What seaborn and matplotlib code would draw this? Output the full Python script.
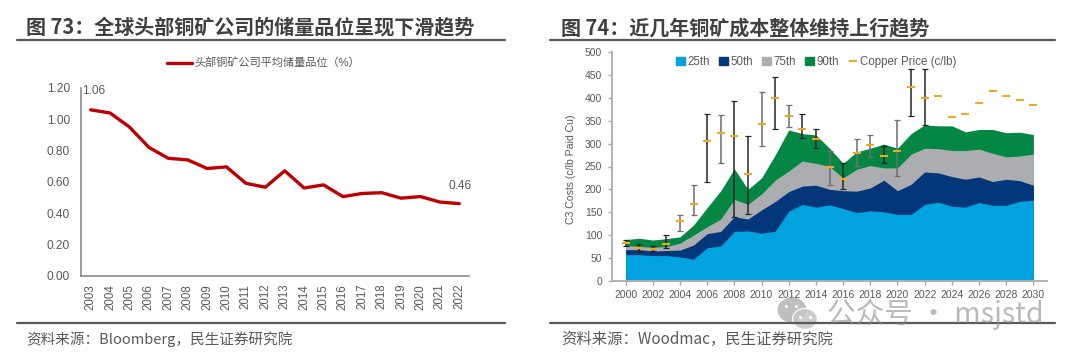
import numpy as np
import pandas as pd
import matplotlib.pyplot as plt
from matplotlib.lines import Line2D
from matplotlib.patches import Ellipse, Patch
import seaborn as sns

W, H = 1078, 357
sns.set_theme(style="white")
plt.rcParams['font.family'] = ['Liberation Sans', 'Noto Sans CJK SC', 'DejaVu Sans']

# left chart
grade_years = [str(y) for y in range(2003, 2023)]
grade = [1.06, 1.04, 0.95, 0.82, 0.75, 0.74, 0.685, 0.695, 0.59, 0.565,
         0.67, 0.56, 0.58, 0.505, 0.525, 0.53, 0.495, 0.505, 0.47, 0.46]

# right chart, top edge of each stacked band
cost_years = list(range(2000, 2031))
p25 = [57, 57, 55, 55, 52, 47, 72, 76, 108, 109, 104, 108, 152, 167, 161, 166,
       158, 149, 153, 151, 145, 145, 167, 172, 163, 161, 171, 165, 165, 174, 176]
p50 = [68, 68, 65, 66, 67, 78, 103, 108, 140, 135, 155, 173, 195, 207, 209, 200,
       197, 196, 203, 220, 197, 211, 238, 236, 228, 222, 227, 217, 222, 219, 209]
p75 = [77, 75, 73, 75, 82, 100, 118, 135, 178, 167, 190, 220, 240, 262, 257, 250,
       225, 244, 252, 247, 247, 277, 290, 289, 285, 285, 288, 279, 271, 273, 277]
p90 = [90, 93, 89, 92, 96, 122, 160, 197, 245, 200, 225, 275, 330, 322, 319, 290,
       257, 282, 290, 299, 290, 322, 341, 339, 339, 326, 331, 331, 324, 325, 320]
copper = [82, 72, 70, 81, 131, 167, 306, 323, 316, 234, 342, 400, 361, 333, 311, 250,
          222, 280, 297, 272, 283, 423, 399, 404, 359, 366, 390, 415, 405, 396, 385]

# high / low whiskers, 2000-2022
err_years = list(range(2000, 2023))
err_low = [76, 63, 66, 71, 109, 144, 216, 257, 139, 145, 294, 333, 336, 312, 291, 209,
           201, 252, 271, 258, 229, 361, 341]
err_high = [89, 80, 76, 99, 143, 209, 364, 362, 393, 317, 414, 447, 384, 366, 331, 285,
            257, 310, 320, 295, 352, 463, 464]
grey_err_years = [2004, 2005, 2007, 2010, 2012, 2015, 2017, 2018, 2020]

fig = plt.figure(figsize=(W / 100, H / 100), dpi=100)


def px_axes(left, top, right, bottom):
    return fig.add_axes([left / W, 1 - bottom / H, (right - left) / W, (bottom - top) / H])


def px_text(x, y, s, **kw):
    fig.text(x / W, 1 - y / H, s, va="center", **kw)


def rule(x0, x1, y):
    fig.add_artist(Line2D([x0 / W, x1 / W], [1 - y / H, 1 - y / H], color="#595959", lw=1.6))


# titles, rules and footers
px_text(26, 28, "图 73：全球头部铜矿公司的储量品位呈现下滑趋势", fontsize=14.45,
        fontweight="bold", color="#404040", family=["Noto Sans CJK SC"])
px_text(561, 28, "图 74：近几年铜矿成本整体维持上行趋势", fontsize=14.45,
        fontweight="bold", color="#404040", family=["Noto Sans CJK SC"])
rule(17, 505, 40)
rule(550, 1055, 40)
rule(17, 505, 323)
rule(550, 1055, 323)
px_text(26, 339, "资料来源：Bloomberg，民生证券研究院", fontsize=10.5, color="#595959",
        family=["Noto Sans CJK SC"])
px_text(561, 339, "资料来源：Woodmac，民生证券研究院", fontsize=11.05, color="#595959",
        family=["Noto Sans CJK SC"])

# left chart
ax = px_axes(81, 88, 469, 275.5)
grade_df = pd.DataFrame({"year": grade_years, "grade": grade})
sns.lineplot(data=grade_df, x="year", y="grade", color="#C00000", lw=2.4, sort=False,
             ax=ax, legend=False)
ax.set_xlim(-0.5, 19.5)
ax.set_ylim(0, 1.2)
ax.set_yticks(np.arange(0, 1.21, 0.2))
ax.set_yticklabels([f"{t:.2f}" for t in np.arange(0, 1.21, 0.2)])
ax.set_xlabel("")
ax.set_ylabel("")
ax.tick_params(axis="x", rotation=90, length=0, labelsize=8.3, labelcolor="#595959", pad=6)
ax.tick_params(axis="y", length=3, color="#808080", width=1, labelsize=8.6,
               labelcolor="#595959", pad=8, direction="in", left=False)
sns.despine(ax=ax)
for side in ["left", "bottom"]:
    ax.spines[side].set_color("#808080")
    ax.spines[side].set_linewidth(1.1)
ax.annotate(f"{grade[0]:.2f}", (0, grade[0]), xytext=(-6.5, 13.7), textcoords="offset points",
            fontsize=8.6, color="#595959", va="center")
ax.annotate(f"{grade[-1]:.2f}", (19, grade[-1]), xytext=(-8, 12.8), textcoords="offset points",
            fontsize=8.6, color="#595959", va="center")
fig.add_artist(Line2D([167 / W, 192 / W], [1 - 62.5 / H] * 2, color="#C00000", lw=2.4))
px_text(194, 62.5, "头部铜矿公司平均储量品位（%）", fontsize=8.0, color="#595959")

# right chart
ax2 = px_axes(612, 52.3, 1047, 280.7)
band_colors = {"25th": "#00A3E0", "50th": "#04367A", "75th": "#ABADB0", "90th": "#058744"}
for name, top in [("90th", p90), ("75th", p75), ("50th", p50), ("25th", p25)]:
    ax2.fill_between(cost_years, 0, top, color=band_colors[name], lw=0)

for yr, lo, hi in zip(err_years, err_low, err_high):
    c = "#6E6E6E" if yr in grey_err_years else "#262626"
    ax2.errorbar([yr], [(lo + hi) / 2], yerr=[[(lo + hi) / 2 - lo], [hi - (lo + hi) / 2]],
                 color=c, lw=1.1, capsize=2.2, capthick=0.9, fmt="none", zorder=3)

price_df = pd.DataFrame({"year": cost_years, "price": copper})
sns.scatterplot(data=price_df, x="year", y="price", marker="_", s=32, color="#F0A81E",
                linewidth=1.5, ax=ax2, zorder=4, legend=False)

ax2.set_xlim(1999, 2031)
ax2.set_ylim(0, 500)
ax2.set_xticks(range(2000, 2031, 2))
ax2.set_yticks(range(0, 501, 50))
ax2.set_xlabel("")
ax2.set_ylabel("C3 Costs (c/lb Paid Cu)", fontsize=7.6, color="#595959", labelpad=5)
ax2.yaxis.set_label_coords(-0.082, 0.49)
ax2.tick_params(axis="both", length=3, width=1, color="#A6A6A6", labelsize=7.5,
                labelcolor="#595959", bottom=True, left=True, pad=4)
sns.despine(ax=ax2)
for side in ["left", "bottom"]:
    ax2.spines[side].set_color("#B0B0B0")
    ax2.spines[side].set_linewidth(1.4)

handles = [Patch(color=band_colors[n], label=n) for n in band_colors]
handles.append(Line2D([], [], marker="_", ls="none", ms=6, mew=1.5, color="#F0A81E",
                      label="Copper Price (c/lb)"))
ax2.legend(handles=handles, loc="center left", bbox_to_anchor=((676 - 612) / 435, 1 - (62 - 52.3) / 228.4),
           ncol=5, frameon=False, fontsize=8.3, labelcolor="#595959", handlelength=0.75,
           handleheight=0.75, handletextpad=0.25, columnspacing=0.78, borderpad=0, borderaxespad=0)

# watermark
px_text(827, 314, "公众号 · msjstd", fontsize=20.6, color="#8C8C8C", alpha=0.6,
        family=["Noto Sans CJK SC"])
wm = fig.add_axes([0, 0, 1, 1], facecolor="none")
wm.set_xlim(0, W)
wm.set_ylim(H, 0)
wm.axis("off")
wm.add_patch(Ellipse((792, 310), 29, 25, color="#A8A8A8", alpha=0.75, lw=0))
wm.add_patch(Ellipse((805, 319), 25, 21, facecolor="#C8C8C8", edgecolor="white", alpha=0.9, lw=1))
wm.scatter([786, 796, 800, 810], [306, 306, 317, 317], s=5, color="white", lw=0)

fig.savefig("out.png", dpi=100)
